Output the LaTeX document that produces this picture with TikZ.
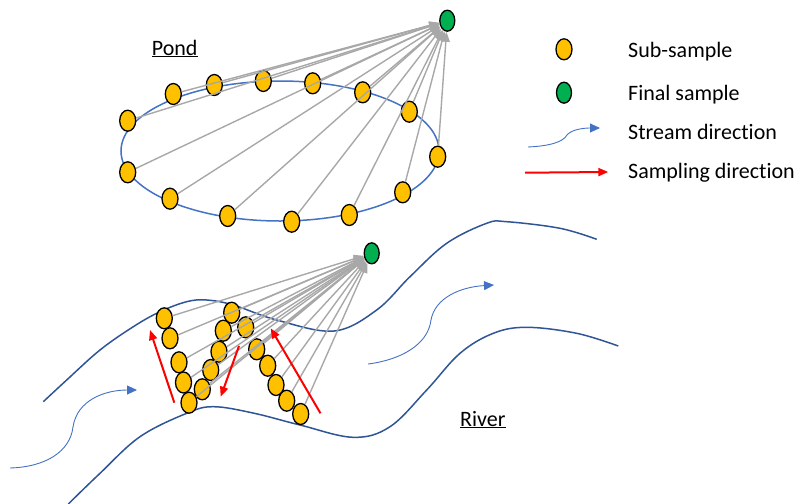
\documentclass[tikz,border=0pt]{standalone}
\usepackage{fontspec}
\setmainfont{Carlito}[Ligatures=NoCommon]
\usetikzlibrary{shapes.geometric,arrows.meta}
\definecolor{subyellow}{HTML}{FFC000}
\definecolor{fingreen}{HTML}{00B050}
\definecolor{pondblue}{HTML}{4472C4}
\definecolor{riverblue}{HTML}{2F5597}
\definecolor{lgray}{HTML}{A8A8A8}
\definecolor{sred}{HTML}{FF0000}
\tikzset{
  sub/.style={ellipse, draw=black, fill=subyellow, line width=1.3pt, minimum width=16pt, minimum height=21pt, inner sep=0pt},
  fin/.style={ellipse, draw=black, fill=fingreen, line width=1.3pt, minimum width=15pt, minimum height=21pt, inner sep=0pt},
  gline/.style={draw=lgray, line width=1.4pt, -{Triangle[length=10pt,width=8pt]}},
  redarrow/.style={draw=sred, line width=2pt, -{Triangle[length=10pt,width=8pt]}},
  streamarrow/.style={draw=pondblue, line width=0.9pt, -{Triangle[length=10pt,width=9pt]}},
  river/.style={draw=riverblue, line width=1.5pt},
  lab/.style={font=\fontsize{22}{26}\selectfont, inner sep=0pt, anchor=base west},
}
\begin{document}
\begin{tikzpicture}[x=1pt,y=-1pt]
\useasboundingbox (0,0) rectangle (807,504);

% ---------------- Pond ----------------
\draw[draw=pondblue, line width=1.5pt] (280,151) ellipse [x radius=159, y radius=70];
\node[lab] (pondlab) at (151.7,55) {\underline{Pond}};

\node[fin] (g1) at (447.3,20.7) {};
\node[sub] (p1) at (127.7,120.7) {};
\node[sub] (p2) at (173.3,94) {};
\node[sub] (p3) at (214.3,85) {};
\node[sub] (p4) at (263.3,81) {};
\node[sub] (p5) at (312.7,83.3) {};
\node[sub] (p6) at (362.7,92.3) {};
\node[sub] (p7) at (409.3,111.7) {};
\node[sub] (p8) at (437.7,156.7) {};
\node[sub] (p9) at (402.7,192.3) {};
\node[sub] (p10) at (349.3,215) {};
\node[sub] (p11) at (291.7,221.7) {};
\node[sub] (p12) at (227.7,216) {};
\node[sub] (p13) at (170,198.7) {};
\node[sub] (p14) at (127.7,172.3) {};
\foreach \i in {1,...,14} { \draw[gline] (p\i) -- (g1); }

% ---------------- River ----------------
\draw[river] plot[smooth, tension=0.6] coordinates {(43.3,401.7) (66.7,380) (100,350) (133.3,326.7) (160,311.7) (186.7,301.7) (206.7,300) (233.3,305) (276.7,320) (334,331) (376.7,310) (410,276.7) (446.7,243.3) (486.7,223.3) (506.7,221.7) (560,228.3) (596.7,239.3)};
\draw[river] plot[smooth, tension=0.6] coordinates {(68.3,504) (100,473.3) (140,436.7) (186.7,413.3) (213.3,406.7) (253,413) (300,425) (353.3,437.3) (390,426.7) (426.7,390) (460,353.3) (493.3,333.3) (526.7,327.3) (576.7,333.3) (618.3,346)};

\draw[streamarrow] (10,468) .. controls (45,467) and (70,452) .. (73,427) .. controls (77,400) and (105,390) .. (137,390);
\draw[streamarrow] (368,364) .. controls (400,360) and (428,345) .. (431,320) .. controls (435,298) and (460,287) .. (494,285);

\node[lab] (riverlab) at (460,426) {\underline{River}};

\node[fin] (g2) at (371.7,253.3) {};
\node[sub] (a1) at (164.3,318.3) {};
\node[sub] (a2) at (170,338.3) {};
\node[sub] (a3) at (179,362.3) {};
\node[sub] (a4) at (183.5,382.5) {};
\node[sub] (a5) at (189,402.7) {};
\node[sub] (b1) at (202.3,389.3) {};
\node[sub] (b2) at (210.7,370) {};
\node[sub] (b3) at (219,351.7) {};
\node[sub] (b4) at (223.3,330.7) {};
\node[sub] (b5) at (231.7,312.7) {};
\node[sub] (b6) at (245.7,327.3) {};
\node[sub] (c1) at (256.7,349.3) {};
\node[sub] (c2) at (267.7,365.7) {};
\node[sub] (c3) at (276,385) {};
\node[sub] (c4) at (286.7,400.7) {};
\node[sub] (c5) at (300.7,414) {};
\foreach \n in {a1,a2,a3,a4,a5,b1,b2,b3,b4,b5,b6,c1,c2,c3,c4,c5} { \draw[gline] (\n) -- (g2); }

\coordinate (r1s) at (174.3,402.7); \coordinate (r1e) at (150,330);
\coordinate (r2s) at (239,346);     \coordinate (r2e) at (220.7,396.7);
\coordinate (r3s) at (320.5,413.3); \coordinate (r3e) at (270.7,328.3);
\draw[redarrow] (r1s) -- (r1e);
\draw[redarrow] (r2s) -- (r2e);
\draw[redarrow] (r3s) -- (r3e);

% ---------------- Legend ----------------
\node[sub] (l1) at (564,49.3) {};
\node[fin] (l2) at (564,92.7) {};
\node[lab] (t1) at (628,57.3) {Sub-sample};
\node[lab] (t2) at (628,100) {Final sample};
\node[lab] (t3) at (628,139.3) {Stream direction};
\node[lab] (t4) at (628,178.3) {Sampling direction};
\coordinate (ls1) at (528,147); \coordinate (ls2) at (600,128);
\draw[streamarrow] (ls1) .. controls (550,146) and (563,142) .. (567,135) .. controls (572,129) and (585,128) .. (ls2);
\coordinate (lr1) at (525,172.7); \coordinate (lr2) at (608.3,172);
\draw[redarrow] (lr1) -- (lr2);
\end{tikzpicture}
\end{document}
